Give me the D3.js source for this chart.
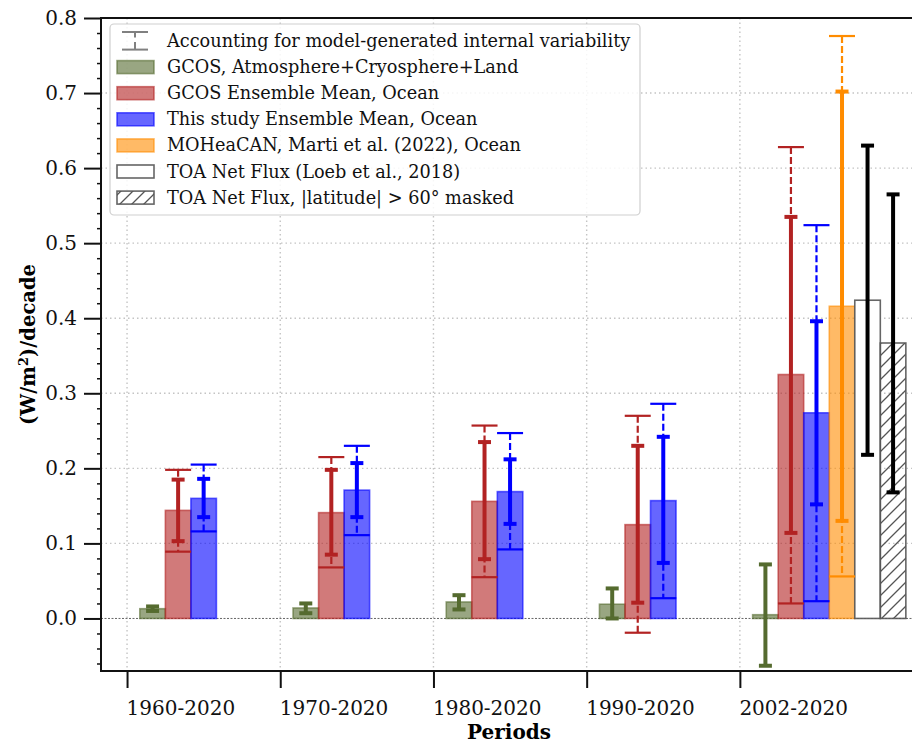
<!DOCTYPE html>
<html>
<head>
<meta charset="utf-8">
<script src="https://cdn.jsdelivr.net/npm/d3@7"></script>
<style>
  body { margin: 0; background: #fff; }
  text { font-family: "DejaVu Serif", serif; }
</style>
</head>
<body>
<script>
    // periods on the x axis
    var periods = ["1960-2020", "1970-2020", "1980-2020", "1990-2020", "2002-2020"];
    var yTicks = [0.0, 0.1, 0.2, 0.3, 0.4, 0.5, 0.6, 0.7, 0.8];

    // GCOS atmosphere + cryosphere + land
    var gcosLand = [0.013, 0.014, 0.022, 0.019, 0.005];
    var gcosLandErr = [[0.010, 0.016], [0.007, 0.020], [0.012, 0.031], [0.000, 0.040], [-0.063, 0.072]];

    // GCOS ensemble mean, ocean
    var gcosOcean = [0.144, 0.141, 0.156, 0.125, 0.325];
    var gcosOceanErr = [[0.103, 0.185], [0.085, 0.198], [0.079, 0.235], [0.021, 0.230], [0.114, 0.535]];
    var gcosOceanIv = [[0.089, 0.198], [0.068, 0.215], [0.055, 0.257], [-0.019, 0.270], [0.020, 0.628]];

    // this study ensemble mean, ocean
    var thisStudy = [0.160, 0.171, 0.169, 0.157, 0.274];
    var thisStudyErr = [[0.135, 0.186], [0.135, 0.207], [0.126, 0.212], [0.074, 0.242], [0.152, 0.396]];
    var thisStudyIv = [[0.116, 0.205], [0.111, 0.230], [0.092, 0.247], [0.027, 0.286], [0.023, 0.524]];

    // 2002-2020 only
    var moheacan = [0.416];
    var moheacanErr = [[0.130, 0.702]];
    var moheacanIv = [[0.056, 0.776]];
    var toa = [0.424];
    var toaErr = [[0.218, 0.630]];
    var toaMasked = [0.367];
    var toaMaskedErr = [[0.168, 0.565]];

    var legendLabels = [
        "Accounting for model-generated internal variability",
        "GCOS, Atmosphere+Cryosphere+Land",
        "GCOS Ensemble Mean, Ocean",
        "This study Ensemble Mean, Ocean",
        "MOHeaCAN, Marti et al. (2022), Ocean",
        "TOA Net Flux (Loeb et al., 2018)",
        "TOA Net Flux, |latitude| > 60\u00b0 masked"
    ];

    var W = 912, H = 743;
    var plot = {left: 101, right: 913, top: 18, bottom: 671};

    var svg = d3.select("body").append("svg")
        .attr("width", W)
        .attr("height", H);

    var defs = svg.append("defs");
    defs.append("pattern")
        .attr("id", "hatch")
        .attr("patternUnits", "userSpaceOnUse")
        .attr("width", 12)
        .attr("height", 12)
        .append("path")
        .attr("d", "M0,12 L12,0 M-3,3 L3,-3 M9,15 L15,9")
        .attr("stroke", "#555")
        .attr("stroke-width", 1.3);
    defs.append("clipPath").attr("id", "clip")
        .append("rect")
        .attr("x", plot.left).attr("y", plot.top)
        .attr("width", plot.right - plot.left).attr("height", plot.bottom - plot.top);

    var x = d3.scaleLinear()
        .domain([-0.17, 5.13])
        .range([plot.left, plot.right]);

    var y = d3.scaleLinear()
        .domain([-0.07, 0.8])
        .range([plot.bottom, plot.top]);

    var bw = 1 / 6;

    //grid
    var grid = svg.append("g").attr("clip-path", "url(#clip)");
    grid.selectAll(".hg")
        .data(yTicks.slice(1))
        .enter()
        .append("line")
        .attr("x1", plot.left).attr("x2", plot.right)
        .attr("y1", d => y(d)).attr("y2", d => y(d))
        .attr("stroke", "#c4c4c4")
        .attr("stroke-width", 1.4)
        .attr("stroke-dasharray", "1.5,3");
    grid.selectAll(".vg")
        .data(periods)
        .enter()
        .append("line")
        .attr("x1", (d, i) => x(i)).attr("x2", (d, i) => x(i))
        .attr("y1", plot.top).attr("y2", plot.bottom)
        .attr("stroke", "#c4c4c4")
        .attr("stroke-width", 1.4)
        .attr("stroke-dasharray", "1.5,3");
    grid.append("line")
        .attr("x1", plot.left).attr("x2", plot.right)
        .attr("y1", y(0)).attr("y2", y(0))
        .attr("stroke", "#666")
        .attr("stroke-width", 1)
        .attr("stroke-dasharray", "2,1.5");

    var series = [
        {vals: gcosLand, err: gcosLandErr, iv: null, slot: 1, start: 0, color: "#556b2f"},
        {vals: gcosOcean, err: gcosOceanErr, iv: gcosOceanIv, slot: 2, start: 0, color: "#b22222"},
        {vals: thisStudy, err: thisStudyErr, iv: thisStudyIv, slot: 3, start: 0, color: "#0000ff"},
        {vals: moheacan, err: moheacanErr, iv: moheacanIv, slot: 4, start: 4, color: "#ff8c00"},
        {vals: toa, err: toaErr, iv: null, slot: 5, start: 4, color: "#000", toa: "plain"},
        {vals: toaMasked, err: toaMaskedErr, iv: null, slot: 6, start: 4, color: "#000", toa: "hatch"}
    ];

    var bars = svg.append("g").attr("id", "bars");
    var errs = svg.append("g").attr("id", "errors");

    series.forEach(function(s) {
        var data = s.vals.map(function(v, j) {
            return {p: s.start + j, v: v, err: s.err[j], iv: s.iv ? s.iv[j] : null};
        });
        var cxOf = d => x(d.p + s.slot * bw);

        bars.selectAll(null)
            .data(data)
            .enter()
            .append("rect")
            .attr("x", d => x(d.p + s.slot * bw - bw / 2))
            .attr("width", x(bw) - x(0))
            .attr("y", d => y(Math.max(d.v, 0)))
            .attr("height", d => Math.abs(y(d.v) - y(0)))
            .attr("fill", s.toa == "hatch" ? "url(#hatch)" : (s.toa ? "#fff" : s.color))
            .attr("fill-opacity", s.toa ? 1 : 0.6)
            .attr("stroke", s.toa ? "#555" : s.color)
            .attr("stroke-opacity", s.toa ? 0.9 : 0.6)
            .attr("stroke-width", 1.6);

        data.forEach(function(d) {
            var cx = cxOf(d);
            if (d.iv) {
                errs.append("line")
                    .attr("x1", cx).attr("x2", cx)
                    .attr("y1", y(d.iv[1])).attr("y2", y(d.iv[0]))
                    .attr("stroke", s.color)
                    .attr("stroke-width", 2.2)
                    .attr("stroke-dasharray", "7,3");
                errs.selectAll(null)
                    .data(d.iv)
                    .enter()
                    .append("line")
                    .attr("x1", cx - 13).attr("x2", cx + 13)
                    .attr("y1", v => y(v)).attr("y2", v => y(v))
                    .attr("stroke", s.color)
                    .attr("stroke-width", 2.2);
            }
            errs.append("line")
                .attr("x1", cx).attr("x2", cx)
                .attr("y1", y(d.err[1])).attr("y2", y(d.err[0]))
                .attr("stroke", s.color)
                .attr("stroke-width", 4);
            errs.selectAll(null)
                .data(d.err)
                .enter()
                .append("line")
                .attr("x1", cx - 6.5).attr("x2", cx + 6.5)
                .attr("y1", v => y(v)).attr("y2", v => y(v))
                .attr("stroke", s.color)
                .attr("stroke-width", 4);
        });
    });

    //axes
    var yAxis = svg.append("g")
        .attr("transform", "translate(" + plot.left + ",0)")
        .call(d3.axisLeft(y).tickValues(yTicks).tickSize(17).tickPadding(7).tickFormat(d3.format(".1f")));
    var minor = d3.range(-0.06, 0.8, 0.02).filter(v => Math.abs(v * 10 - Math.round(v * 10)) > 0.01);
    var yMinor = svg.append("g")
        .attr("transform", "translate(" + plot.left + ",0)")
        .call(d3.axisLeft(y).tickValues(minor).tickSize(4).tickFormat(""));
    yMinor.select(".domain").remove();

    var xAxis = svg.append("g")
        .attr("transform", "translate(0," + plot.bottom + ")")
        .call(d3.axisBottom(x).tickValues(d3.range(periods.length)).tickSize(17).tickPadding(13).tickFormat((d, i) => periods[i]));
    xAxis.selectAll("text").attr("text-anchor", "start").attr("dx", -1);

    [yAxis, xAxis].forEach(function(a) {
        a.selectAll("text")
            .style("font-family", "DejaVu Serif")
            .style("font-size", "20px")
            .attr("fill", "#111");
        a.selectAll(".tick line").attr("stroke", "#111").attr("stroke-width", 2);
        a.select(".domain").remove();
    });
    yMinor.selectAll(".tick line").attr("stroke", "#111").attr("stroke-width", 1.5);

    // spines
    svg.append("path")
        .attr("d", "M" + plot.right + "," + plot.top + " H" + plot.left + " V" + plot.bottom + " H" + plot.right)
        .attr("fill", "none")
        .attr("stroke", "#111")
        .attr("stroke-width", 2);

    svg.append("text")
        .attr("x", (plot.left + plot.right) / 2 + 2)
        .attr("y", 739)
        .attr("text-anchor", "middle")
        .style("font-size", "20px")
        .style("font-weight", "bold")
        .text("Periods");

    var yl = svg.append("text")
        .attr("transform", "translate(35," + ((plot.top + plot.bottom) / 2) + ") rotate(-90)")
        .attr("text-anchor", "middle")
        .style("font-size", "19.5px")
        .style("font-weight", "bold");
    yl.append("tspan").text("(W/m");
    yl.append("tspan").attr("dy", -7).style("font-size", "13px").text("2");
    yl.append("tspan").attr("dy", 7).text(")/decade");

    //legend
    var leg = svg.append("g").attr("id", "legend");
    leg.append("rect")
        .attr("x", 110).attr("y", 24)
        .attr("width", 530).attr("height", 191)
        .attr("rx", 4)
        .attr("fill", "#fff")
        .attr("fill-opacity", 0.85)
        .attr("stroke", "#cfcfcf")
        .attr("stroke-width", 1.2);

    var rowY = i => 41 + i * 26.1;
    var handles = [
        null,
        {fill: "#556b2f"},
        {fill: "#b22222"},
        {fill: "#0000ff"},
        {fill: "#ff8c00"},
        {toa: "plain"},
        {toa: "hatch"}
    ];
    legendLabels.forEach(function(lab, i) {
        var cy = rowY(i);
        var h = handles[i];
        if (h == null) {
            var g = leg.append("g").attr("stroke", "#808080").attr("stroke-width", 2);
            g.append("line").attr("x1", 122).attr("x2", 148).attr("y1", cy - 9).attr("y2", cy - 9);
            g.append("line").attr("x1", 122).attr("x2", 148).attr("y1", cy + 8.6).attr("y2", cy + 8.6);
            g.append("line").attr("x1", 135).attr("x2", 135).attr("y1", cy - 9).attr("y2", cy - 3.5);
            g.append("line").attr("x1", 135).attr("x2", 135).attr("y1", cy + 1).attr("y2", cy + 8.6);
        } else {
            leg.append("rect")
                .attr("x", 117).attr("y", cy - 6.5)
                .attr("width", 37).attr("height", 13)
                .attr("fill", h.toa == "hatch" ? "url(#hatch)" : (h.toa ? "#fff" : h.fill))
                .attr("fill-opacity", h.toa ? 1 : 0.6)
                .attr("stroke", h.toa ? "#555" : h.fill)
                .attr("stroke-opacity", h.toa ? 0.9 : 0.6)
                .attr("stroke-width", 1.6);
        }
        leg.append("text")
            .attr("x", 167)
            .attr("y", cy + 6)
            .style("font-size", "17.7px")
            .attr("fill", "#111")
            .text(lab);
    });
</script>
</body>
</html>
